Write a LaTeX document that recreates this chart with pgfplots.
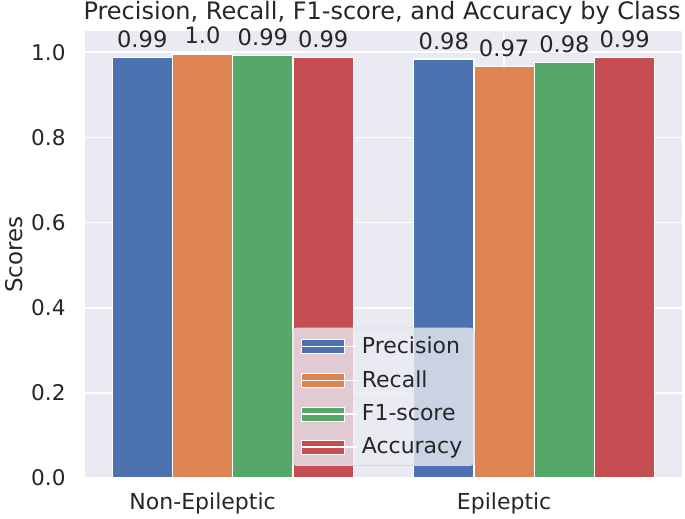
\documentclass[border=0pt]{standalone}
\usepackage{fontspec}
\setmainfont{DejaVu Sans}
\usepackage{pgfplots}
\usepackage{pgfplotstable}
\pgfplotsset{compat=1.18}
\definecolor{sbbg}{HTML}{EAEAF2}
\definecolor{sbblue}{HTML}{4C72B0}
\definecolor{sborange}{HTML}{DD8452}
\definecolor{sbgreen}{HTML}{55A868}
\definecolor{sbred}{HTML}{C44E52}

\pgfplotstableread{
x val lab
0.0 0.988 0.99
1.0 0.984 0.98
}\precision
\pgfplotstableread{
x val lab
0.2 0.996 1.0
1.2 0.967 0.97
}\recall
\pgfplotstableread{
x val lab
0.4 0.992 0.99
1.4 0.976 0.98
}\fone
\pgfplotstableread{
x val lab
0.6 0.988 0.99
1.6 0.988 0.99
}\accuracy

\begin{document}
\begin{tikzpicture}
\path[use as bounding box] (-42.5pt,-20.5pt) rectangle (300pt,239pt);
\begin{axis}[
  at={(0,0)}, anchor=south west,
  scale only axis, width=298.5pt, height=223.5pt,
  xmin=-0.19, xmax=1.79, ymin=0, ymax=1.05,
  clip=false,
  axis background/.style={fill=sbbg},
  axis line style={draw=none},
  major tick length=0pt,
  grid=major, grid style={white, line width=0.8pt},
  xtick={0.2,1.2}, xticklabels={Non-Epileptic, Epileptic},
  ytick={0,0.2,0.4,0.6,0.8,1.0},
  /pgf/number format/fixed, /pgf/number format/fixed zerofill,
  /pgf/number format/precision=1, /pgf/number format/assume math mode=true,
  yticklabel style={font=\fontsize{10.8}{12}\selectfont, color=black!85, anchor=east, inner sep=0pt, xshift=-9.5pt},
  xticklabel style={font=\fontsize{11}{13}\selectfont, color=black!85, anchor=base, inner sep=0pt, yshift=-16pt},
  bar width=0.2,
  legend style={at={(0.5,0.027)}, anchor=south, fill=sbbg, fill opacity=0.8, text opacity=1,
    draw=black!15, rounded corners=2pt, font=\fontsize{11}{13}\selectfont, text=black!85,
    row sep=3pt, inner xsep=4pt, inner ysep=2.5pt},
  legend cell align=left,
  legend image code/.code={\draw[#1, sharp corners, fill opacity=1, line width=0.4pt] (0pt,-3.5pt) rectangle (21.5pt,3.5pt);
    \path (0pt,0pt) -- (28pt,0pt);},
  every node near coord/.append style={font=\fontsize{11.3}{13}\selectfont, color=black!85, anchor=base, inner sep=0pt, yshift=5pt},
]
\addplot[ybar, bar shift=0pt, fill=sbblue, draw=white, line width=0.6pt, nodes near coords, point meta=explicit symbolic]
  table[x=x, y=val, meta=lab] {\precision};
\addlegendentry{Precision}
\addplot[ybar, bar shift=0pt, fill=sborange, draw=white, line width=0.6pt, nodes near coords, point meta=explicit symbolic]
  table[x=x, y=val, meta=lab] {\recall};
\addlegendentry{Recall}
\addplot[ybar, bar shift=0pt, fill=sbgreen, draw=white, line width=0.6pt, nodes near coords, point meta=explicit symbolic]
  table[x=x, y=val, meta=lab] {\fone};
\addlegendentry{F1-score}
\addplot[ybar, bar shift=0pt, fill=sbred, draw=white, line width=0.6pt, nodes near coords, point meta=explicit symbolic]
  table[x=x, y=val, meta=lab] {\accuracy};
\addlegendentry{Accuracy}
\end{axis}
\node[rotate=90, font=\fontsize{11.5}{13}\selectfont, text=black!85] at (-35.5pt,111.75pt) {Scores};
\node[anchor=base, font=\fontsize{12}{14}\selectfont, text=black!85] at (148.5pt,229pt) {Precision, Recall, F1-score, and Accuracy by Class};
\end{tikzpicture}
\end{document}
